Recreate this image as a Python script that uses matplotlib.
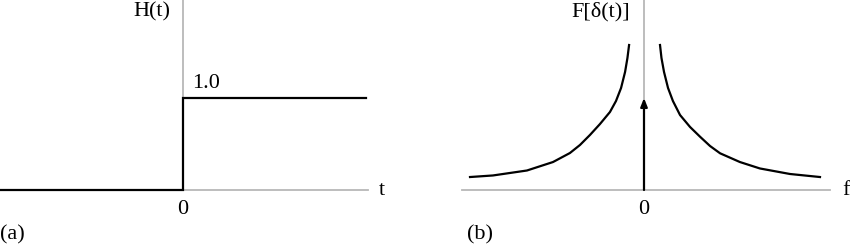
import numpy as np
import matplotlib.pyplot as plt

plt.rcParams['font.family'] = ['Liberation Serif', 'DejaVu Serif']

# (a) unit step H(t)
step_t = [-1.0, 0.0, 0.0, 1.0]
step_h = [0.0, 0.0, 1.0, 1.0]
step_label = '1.0'

# (b) spectrum curves
left_f = [-0.956, -0.830, -0.643, -0.500, -0.407, -0.352, -0.297, -0.242,
          -0.187, -0.154, -0.126, -0.104, -0.091, -0.082]
left_y = [0.141, 0.158, 0.212, 0.304, 0.402, 0.489, 0.598, 0.717,
          0.848, 0.967, 1.109, 1.283, 1.435, 1.576]
right_f = [0.088, 0.096, 0.110, 0.132, 0.159, 0.198, 0.253, 0.308,
           0.363, 0.418, 0.527, 0.637, 0.802, 0.967]
right_y = [1.576, 1.435, 1.283, 1.109, 0.967, 0.815, 0.685, 0.579,
           0.478, 0.399, 0.304, 0.234, 0.174, 0.141]
delta_height = 1.0

W, H = 850, 245
fig = plt.figure(figsize=(W / 100, H / 100), dpi=100)
grey = '#b8b8b8'
fs = 16

def make_ax(x0, x1, y_axis_px, xlim, ylim):
    ax = fig.add_axes([x0 / W, (H - y_axis_px) / H, (x1 - x0) / W, y_axis_px / H])
    ax.set_xlim(*xlim)
    ax.set_ylim(*ylim)
    for s in ['top', 'right', 'left']:
        ax.spines[s].set_visible(False)
    ax.spines['bottom'].set_color(grey)
    ax.spines['bottom'].set_linewidth(1.3)
    ax.set_xticks([])
    ax.set_yticks([])
    ax.patch.set_alpha(0)
    ax.axvline(0, color=grey, lw=1.3, zorder=1)
    return ax

# panel (a)
ax1 = make_ax(0, 368, 190, (-1.0, 185 / 183), (0, 190 / 92))
ax1.plot(step_t, step_h, color='black', lw=1.6, solid_joinstyle='miter', clip_on=False, zorder=3)
ax1.text(-0.071, 1.935, 'H(t)', ha='right', va='center', fontsize=fs)
ax1.text(0.049, 1.163, step_label, ha='left', va='center', fontsize=fs)
ax1.text(1.071, 0.0, 't', ha='left', va='center', fontsize=fs)
ax1.text(0.0, -0.217, '0', ha='center', va='center', fontsize=fs)
ax1.text(-1.0, -0.489, '(a)', ha='left', va='center', fontsize=fs)

# panel (b)
ax2 = make_ax(462, 830, 190, (-1.0, 186 / 182), (0, 190 / 92))
ax2.plot(left_f, left_y, color='black', lw=1.6, zorder=3)
ax2.plot(right_f, right_y, color='black', lw=1.6, zorder=3)
ax2.annotate('', xy=(0, delta_height), xytext=(0, 0),
             arrowprops=dict(arrowstyle='-|>,head_length=0.5,head_width=0.2',
                             color='black', lw=1.6, shrinkA=0, shrinkB=0))
ax2.text(-0.077, 1.935, 'F[δ(t)]', ha='right', va='center', fontsize=fs)
ax2.text(1.088, 0.0, 'f', ha='left', va='center', fontsize=fs)
ax2.text(0.0, -0.217, '0', ha='center', va='center', fontsize=fs)
ax2.text(-0.973, -0.489, '(b)', ha='left', va='center', fontsize=fs)

fig.savefig('out.png', dpi=100)
